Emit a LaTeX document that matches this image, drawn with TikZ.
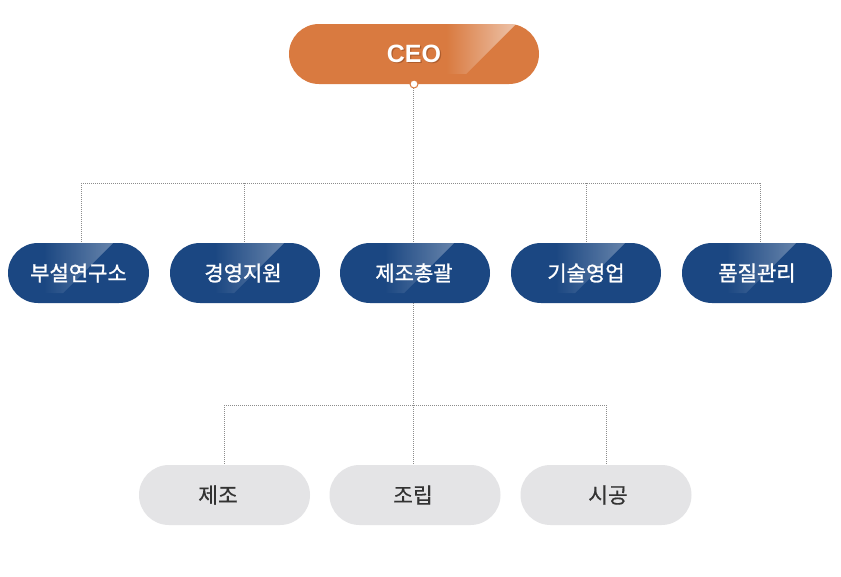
\documentclass[tikz,border=0pt]{standalone}
\usepackage{fontspec}
\setmainfont{Liberation Sans}
\newfontfamily\krb{Noto Sans CJK KR}[FakeBold=1.2]
\newfontfamily\krm{Noto Sans CJK KR}[FakeBold=0.5]
\usetikzlibrary{calc,fadings}
\definecolor{ceoorange}{HTML}{D97A40}
\definecolor{ceoshadow}{HTML}{7A3A18}
\definecolor{deptblue}{HTML}{1B4782}
\definecolor{subgray}{HTML}{E4E4E6}
\definecolor{subtext}{HTML}{333333}
\definecolor{linegray}{HTML}{8C8C8C}
\tikzfading[name=glossfade, left color=transparent!100, right color=transparent!45]
\tikzset{
  pill/.style={rectangle, rounded corners=30pt, minimum height=60pt, inner sep=0pt, outer sep=0pt},
  ceobox/.style={pill, fill=ceoorange, minimum width=250pt},
  deptbox/.style={pill, fill=deptblue, minimum width=150pt, text=white, font=\krb\fontsize{21}{24}\selectfont},
  subbox/.style={pill, fill=subgray, minimum width=171pt},
  subtxt/.style={text=subtext, font=\krm\fontsize{21.5}{24}\selectfont, inner sep=0pt},
  conn/.style={draw=linegray, line width=0.8pt, dash pattern=on 1pt off 1pt},
}
\newcommand{\glossy}[3]{%
  \begin{scope}
    \clip[rounded corners=30pt] (#1.south west) rectangle (#1.north east);
    \fill[white, path fading=glossfade, fill opacity=#3]
      ($(#1.north east)+(-#2-70,0)$) -- ($(#1.north east)+(-#2,0)$) --
      ($(#1.north east)+(-#2-50,50)$) -- ($(#1.north east)+(-#2-70,50)$) -- cycle;
  \end{scope}}
\begin{document}
\begin{tikzpicture}[x=1pt,y=-1pt]
\useasboundingbox (0,0) rectangle (841,576);
\fill[white] (0,0) rectangle (841,576);

% CEO
\node[ceobox] (ceo) at (414,54) {};
\glossy{ceo}{23}{1}
\node[text=ceoshadow, font=\bfseries\fontsize{25}{28}\selectfont, opacity=0.45] (ceoshd) at (415.2,55.2) {CEO};
\node[text=white, font=\bfseries\fontsize{25}{28}\selectfont] (ceotxt) at (414,54) {CEO};

% departments
\node[deptbox, minimum width=141pt] (d1) at (78.5,273) {};
\node[deptbox] (d2) at (245,273) {};
\node[deptbox] (d3) at (415,273) {};
\node[deptbox] (d4) at (586,273) {};
\node[deptbox] (d5) at (757,273) {};
\glossy{d1}{36}{0.6}
\glossy{d2}{36}{0.6}
\glossy{d3}{36}{0.6}
\glossy{d4}{36}{0.6}
\glossy{d5}{36}{0.6}
\node[deptbox, fill=none] (t1) at (78.5,273) {부설연구소};
\node[deptbox, fill=none] (t2) at (243,273) {경영지원};
\node[deptbox, fill=none] (t3) at (414,273) {제조총괄};
\node[deptbox, fill=none] (t4) at (586,273) {기술영업};
\node[deptbox, fill=none] (t5) at (757,273) {품질관리};

% sub units
\node[subbox] (s1) at (224.5,495) {};
\node[subbox] (s2) at (415,495) {};
\node[subbox] (s3) at (606,495) {};
\node[subtxt] (u1) at (218,495) {제조};
\node[subtxt] (u2) at (413,495) {조립};
\node[subtxt] (u3) at (608,495) {시공};

% junction coordinates
\coordinate (j0) at (413,183);
\coordinate (j1) at (81,183);
\coordinate (j2) at (244,183);
\coordinate (j4) at (586,183);
\coordinate (j5) at (760,183);
\coordinate (ceob) at (413,88);
\coordinate (d1t) at (81,243);
\coordinate (d2t) at (244,243);
\coordinate (d3t) at (413,243);
\coordinate (d4t) at (586,243);
\coordinate (d5t) at (760,243);
\coordinate (d3b) at (413,303);
\coordinate (k0) at (413,405);
\coordinate (k1) at (224,405);
\coordinate (k3) at (606,405);
\coordinate (s1t) at (224,465);
\coordinate (s2t) at (413,465);
\coordinate (s3t) at (606,465);

\draw[conn] (ceob) -- (j0);
\draw[conn] (j1) -- (j5);
\draw[conn] (j1) -- (d1t);
\draw[conn] (j2) -- (d2t);
\draw[conn] (j0) -- (d3t);
\draw[conn] (j4) -- (d4t);
\draw[conn] (j5) -- (d5t);
\draw[conn] (d3b) -- (k0);
\draw[conn] (k1) -- (k3);
\draw[conn] (k1) -- (s1t);
\draw[conn] (k0) -- (s2t);
\draw[conn] (k3) -- (s3t);

% CEO connector dot
\node[circle, fill=white, draw=ceoorange, line width=1pt, minimum size=8pt, inner sep=0pt] (dot) at (414,84) {};
\end{tikzpicture}
\end{document}
